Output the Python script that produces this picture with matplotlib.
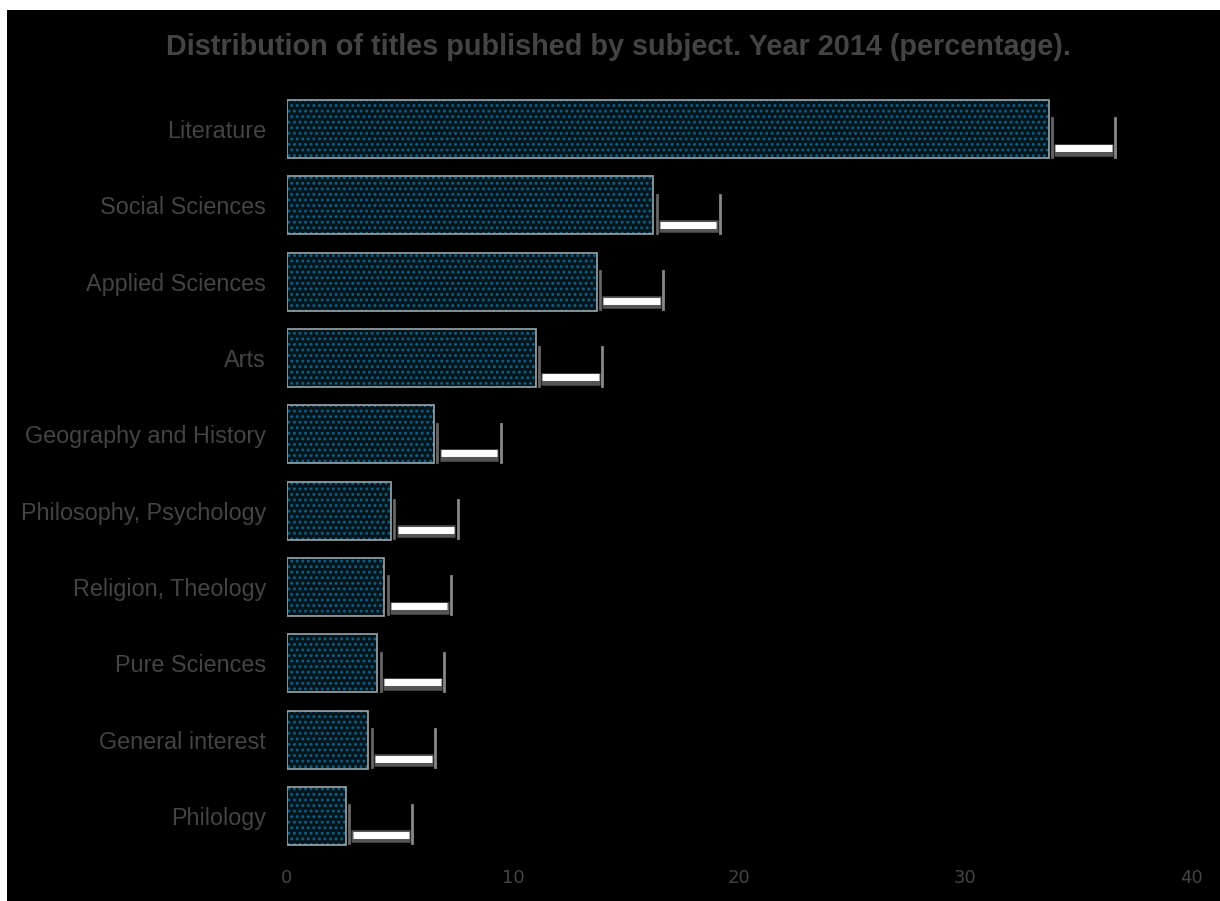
import matplotlib.pyplot as plt
from matplotlib.patches import Rectangle

categories = ["Literature", "Social Sciences", "Applied Sciences", "Arts",
              "Geography and History", "Philosophy, Psychology",
              "Religion, Theology", "Pure Sciences", "General interest",
              "Philology"]
values = [33.7, 16.2, 13.7, 11.0, 6.5, 4.6, 4.3, 4.0, 3.6, 2.6]
x_ticks = [0, 10, 20, 30, 40]

plt.rcParams["hatch.linewidth"] = 1.3

fig = plt.figure(figsize=(12.2, 9.01), dpi=100, facecolor="white")
# black canvas with a thin white margin top/left
fig.patches.append(Rectangle((7 / 1220, 0), 1, 1 - 10 / 901,
                             transform=fig.transFigure, facecolor="black",
                             edgecolor="none", zorder=-10))

ax = fig.add_axes([287 / 1220, 1 - 854 / 901, (1191 - 287) / 1220, (854 - 91) / 901])
ax.set_facecolor("black")

y = list(range(len(categories)))
# patterned fill
ax.barh(y, values, height=0.76, color="#03161d", edgecolor="#145e80",
        hatch="...", linewidth=0, zorder=2)
# outline
ax.barh(y, values, height=0.76, fill=False, edgecolor="#9aa6ab",
        linewidth=1.2, zorder=3)

# label-box ghosts next to each bar
for yi, v in zip(y, values):
    x0 = v + 0.15
    x1 = v + 2.95
    ax.plot([x0, x0], [yi - 0.14, yi + 0.36], color="#666666", lw=2, zorder=3)
    ax.plot([x1, x1], [yi - 0.14, yi + 0.36], color="#888888", lw=2, zorder=3)
    ax.plot([x0 + 0.1, x1 - 0.1], [yi + 0.27, yi + 0.27], color="#555555",
            lw=9, solid_capstyle="butt", zorder=3)
    ax.plot([x0 + 0.15, x1 - 0.15], [yi + 0.25, yi + 0.25], color="white",
            lw=5, solid_capstyle="butt", zorder=4)

ax.set_xlim(0, 40)
ax.set_ylim(len(categories) - 0.5, -0.5)
ax.set_xticks(x_ticks)
ax.set_xticklabels([str(t) for t in x_ticks], fontsize=13, color="#444444",
                   family="Liberation Sans Narrow")
ax.set_yticks(y)
ax.set_yticklabels(categories, fontsize=16.8, color="#444444",
                   family="Liberation Sans")
ax.tick_params(length=0, pad=15, axis="y")
ax.tick_params(length=0, pad=11, axis="x")
for s in ax.spines.values():
    s.set_visible(False)

fig.text(0.507, 1 - 47 / 901,
         "Distribution of titles published by subject. Year 2014 (percentage).",
         ha="center", va="center", fontsize=20.8, fontweight="bold",
         color="#444444", family="Liberation Sans")

fig.savefig("out.png", dpi=100, facecolor=fig.get_facecolor())
